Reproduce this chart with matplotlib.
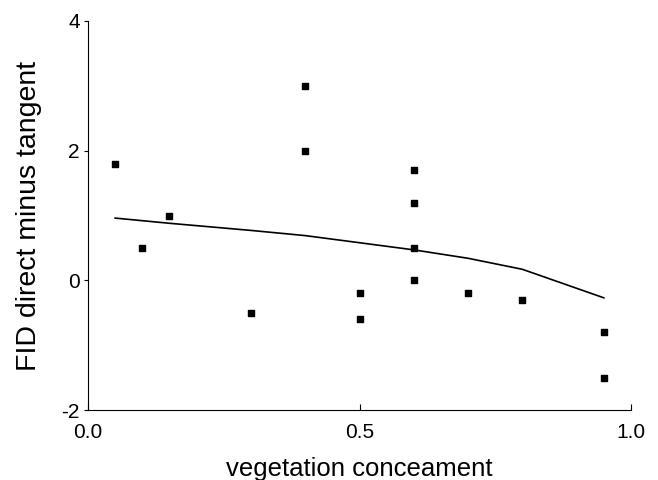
import matplotlib.pyplot as plt

plt.rcParams['font.family'] = ['Liberation Sans', 'DejaVu Sans']
plt.rcParams['axes.unicode_minus'] = False

# scatter observations
conceal = [0.05, 0.1, 0.15, 0.3, 0.4, 0.4, 0.5, 0.5, 0.6, 0.6, 0.6, 0.6, 0.7, 0.8, 0.95, 0.95]
fid_diff = [1.8, 0.5, 1.0, -0.5, 3.0, 2.0, -0.2, -0.6, 1.7, 1.2, 0.5, 0.0, -0.2, -0.3, -0.8, -1.5]

# smoothed fit line
fit_x = [0.05, 0.1, 0.15, 0.3, 0.4, 0.5, 0.6, 0.7, 0.8, 0.95]
fit_y = [0.96, 0.92, 0.88, 0.77, 0.69, 0.58, 0.47, 0.34, 0.17, -0.27]

fig = plt.figure(figsize=(6.58, 4.8), dpi=100)
ax = fig.add_axes([88 / 658, 70 / 480, 543 / 658, 389 / 480])

ax.plot(fit_x, fit_y, color='black', lw=1.2)
ax.scatter(conceal, fid_diff, marker='s', s=16, color='black', zorder=3)

ax.set_xlim(0, 1)
ax.set_ylim(-2, 4)
ax.set_xticks([0.0, 0.5, 1.0])
ax.set_xticklabels(['0.0', '0.5', '1.0'])
ax.set_yticks([-2, 0, 2, 4])
ax.spines['top'].set_visible(False)
ax.spines['right'].set_visible(False)
ax.tick_params(axis='x', direction='in', length=4, labelsize=15, pad=9)
ax.tick_params(axis='y', direction='out', length=3, labelsize=15, pad=3)

ax.set_xlabel('vegetation conceament', fontsize=18.5, labelpad=11)
ax.set_ylabel('FID direct minus tangent', fontsize=20.5, labelpad=14)

fig.savefig('out.png', dpi=100)
